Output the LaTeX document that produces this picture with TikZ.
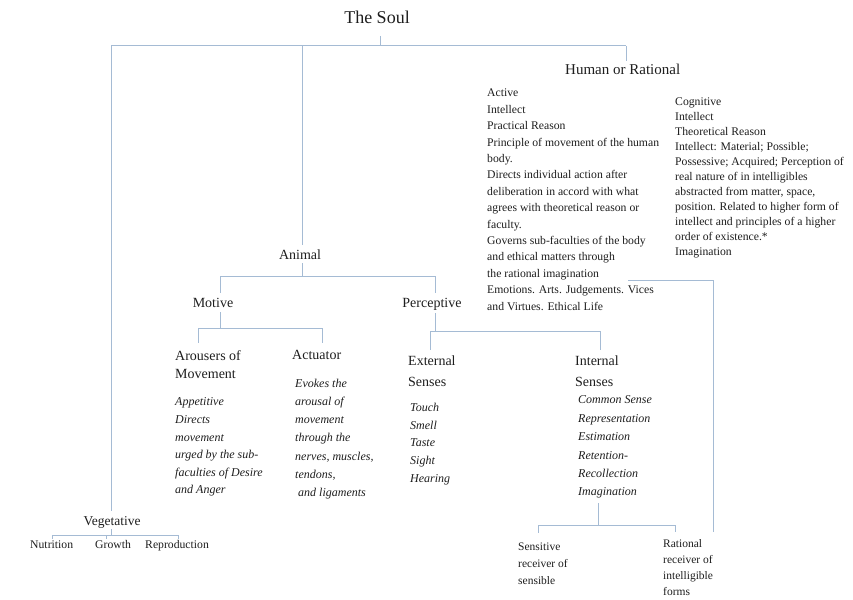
\documentclass[tikz,border=0pt]{standalone}
\usepackage{fontspec}
\setmainfont{Liberation Serif}
\definecolor{linec}{RGB}{165,187,212}
\definecolor{txt}{RGB}{30,30,30}
\begin{document}
\begin{tikzpicture}[x=1pt,y=-1pt,
  conn/.style={draw=linec, line width=1pt},
  lbl/.style={inner sep=0pt, text=txt},
  headf/.style={lbl, font=\fontsize{14}{18}\selectfont},
  blk/.style={lbl, align=left, anchor=north west},
]
\useasboundingbox (0,0) rectangle (853,599);
% ---------- nodes ----------
\node[lbl, font=\fontsize{18}{20}\selectfont, anchor=base] (soul) at (377,24) {The Soul};
\node[lbl, font=\fontsize{15}{18}\selectfont, anchor=base west] (human) at (565,74.5) {Human  or Rational};
\node[blk, font=\fontsize{11.7}{16.4}\selectfont] (active) at (487,89) {Active\\Intellect\\Practical Reason\\Principle  of movement of the human\\body.\\Directs individual  action after\\deliberation in accord with what\\agrees with theoretical reason or\\faculty.\\Governs sub-faculties of the body\\and ethical matters through\\the rational imagination\\Emotions.  Arts.  Judgements.  Vices\\and Virtues. Ethical Life};
\node[blk, font=\fontsize{11.7}{15}\selectfont] (cognitive) at (675,98) {Cognitive\\Intellect\\Theoretical Reason\\Intellect: Material; Possible;\\Possessive; Acquired; Perception of\\real nature of in intelligibles\\abstracted from matter, space,\\position.  Related  to higher form of\\intellect and principles  of a higher\\order of existence.*\\Imagination};
\node[headf, anchor=base] (animal) at (300,259) {Animal};
\node[headf, anchor=base] (motive) at (213,307) {Motive};
\node[headf, anchor=base] (percept) at (432,307) {Perceptive};
\node[headf, blk] (arouser) at (175,350) {Arousers of\\Movement};
\node[blk, font=\fontsize{12}{17.6}\selectfont\itshape] (arouserTxt) at (175,397.8) {Appetitive\\Directs\\movement\\urged by the sub-\\faculties of Desire\\and Anger};
\node[headf, anchor=base west] (actuator) at (292,359) {Actuator};
\node[blk, font=\fontsize{12}{18.2}\selectfont\itshape] (actuatorTxt) at (295,378.8) {Evokes the\\arousal of\\movement\\through the\\nerves, muscles,\\tendons,\\\hspace*{3pt}and ligaments};
\node[headf, blk, font=\fontsize{14}{21}\selectfont] (external) at (408,356) {External\\Senses};
\node[blk, font=\fontsize{12}{17.8}\selectfont\itshape] (externalTxt) at (410,402.8) {Touch\\Smell\\Taste\\Sight\\Hearing};
\node[headf, blk, font=\fontsize{14}{21}\selectfont] (internal) at (575,356) {Internal\\Senses};
\node[blk, font=\fontsize{12}{18.4}\selectfont\itshape] (internalTxt) at (578,395.8) {Common Sense\\Representation\\Estimation\\Retention-\\Recollection\\Imagination};
\node[blk, font=\fontsize{11.5}{17}\selectfont] (sensitive) at (518,543) {Sensitive\\receiver  of\\sensible};
\node[blk, font=\fontsize{11.5}{16}\selectfont] (rational) at (663,539) {Rational\\receiver of\\intelligible\\forms};
\node[lbl, font=\fontsize{13.5}{16}\selectfont, anchor=base] (veget) at (112,525) {Vegetative};
\node[lbl, font=\fontsize{11.7}{14}\selectfont, anchor=base west] (nutrition) at (30,548.5) {Nutrition};
\node[lbl, font=\fontsize{11.7}{14}\selectfont, anchor=base west] (growth) at (95,548.5) {Growth};
\node[lbl, font=\fontsize{11.7}{14}\selectfont, anchor=base west] (repro) at (145,548.5) {Reproduction};
% ---------- junction coordinates ----------
\coordinate (soulT) at (380,36);
\coordinate (barL) at (111,46);
\coordinate (barR) at (626,46);
\coordinate (barA) at (302,46);
\coordinate (barS) at (380,46);
\coordinate (humanT) at (626,61);
\coordinate (vegT) at (111,511);
\coordinate (animalT) at (302,245);
\coordinate (animalB0) at (302,263);
\coordinate (animalB) at (302,276);
\coordinate (anL) at (220,276);
\coordinate (anR) at (435,276);
\coordinate (motiveT) at (220,293);
\coordinate (perceptT) at (435,293);
\coordinate (motiveB1) at (220,312);
\coordinate (motiveB) at (220,328);
\coordinate (moL) at (198,328);
\coordinate (moR) at (322,328);
\coordinate (arouserT) at (198,343);
\coordinate (actuatorT) at (322,343);
\coordinate (perceptB1) at (435,313);
\coordinate (perceptB) at (435,331);
\coordinate (peL) at (430,331);
\coordinate (peR) at (600,331);
\coordinate (externalT) at (430,350);
\coordinate (internalT) at (600,350);
\coordinate (internalB1) at (598,503);
\coordinate (internalB) at (598,525);
\coordinate (inL) at (538,525);
\coordinate (inR) at (675,525);
\coordinate (sensitiveT) at (538,533);
\coordinate (rationalT) at (675,532);
\coordinate (cogL) at (628,280);
\coordinate (cogR) at (713,280);
\coordinate (cogB) at (713,532);
\coordinate (vegB1) at (111,529);
\coordinate (vegB) at (111,535);
\coordinate (veL) at (52,535);
\coordinate (veM) at (106,535);
\coordinate (veR) at (178,535);
\coordinate (nutT) at (52,539);
\coordinate (groT) at (106,539);
\coordinate (repT) at (178,539);
% ---------- connectors ----------
\draw[conn] (soulT) -- (barS);
\draw[conn] (barL) -- (barR);
\draw[conn] (barL) -- (vegT);
\draw[conn] (barA) -- (animalT);
\draw[conn] (barR) -- (humanT);
\draw[conn] (animalB0) -- (animalB);
\draw[conn] (anL) -- (anR);
\draw[conn] (anL) -- (motiveT);
\draw[conn] (anR) -- (perceptT);
\draw[conn] (motiveB1) -- (motiveB);
\draw[conn] (moL) -- (moR);
\draw[conn] (moL) -- (arouserT);
\draw[conn] (moR) -- (actuatorT);
\draw[conn] (perceptB1) -- (perceptB);
\draw[conn] (peL) -- (peR);
\draw[conn] (peL) -- (externalT);
\draw[conn] (peR) -- (internalT);
\draw[conn] (internalB1) -- (internalB);
\draw[conn] (inL) -- (inR);
\draw[conn] (inL) -- (sensitiveT);
\draw[conn] (inR) -- (rationalT);
\draw[conn] (cogL) -- (cogR) -- (cogB);
\draw[conn] (vegB1) -- (vegB);
\draw[conn] (veL) -- (veR);
\draw[conn] (veL) -- (nutT);
\draw[conn] (veM) -- (groT);
\draw[conn] (veR) -- (repT);
\end{tikzpicture}
\end{document}
